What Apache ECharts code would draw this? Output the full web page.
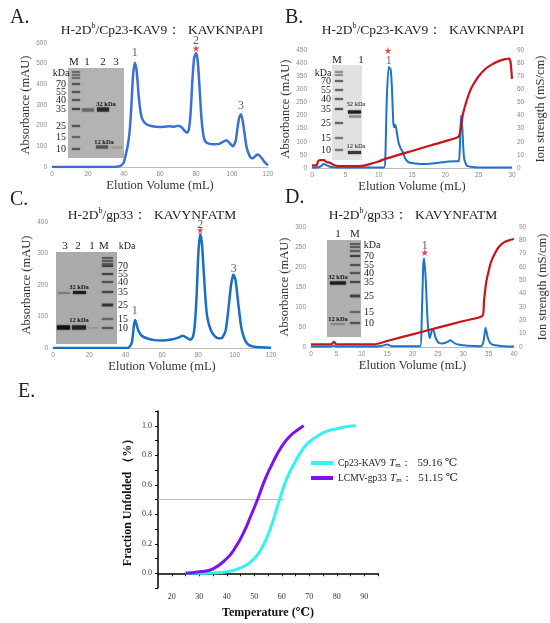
<!DOCTYPE html>
<html>
<head>
<meta charset="utf-8">
<script src="https://cdn.jsdelivr.net/npm/echarts@6/dist/echarts.min.js"></script>
<style>
  body { margin: 0; background: #fff; }
  #chart { width: 550px; height: 623px; }
</style>
</head>
<body>
<div id="chart"></div>
<script>
// ---- data ----
// A: H-2Db/Cp23-KAV9 gel filtration, [volume mL, absorbance mAU]
const traceA = [[0,0],[20,0],[30,0],[36,1],[38,5],[39,12],[40,25],[41,60],[42,100],[43,160],[44,280],[45,440],[46,505],[47,470],[48,360],[49,280],[50,235],[52,210],[55,198],[60,193],[65,197],[68,195],[70,200],[72,192],[74,172],[75,166],[76,180],[77,260],[78,420],[79,530],[80,550],[81,510],[82,380],[83,240],[84,160],[85,125],[87,113],[90,110],[93,112],[95,122],[97,130],[99,112],[100.5,100],[102,125],[103,185],[104,240],[105,255],[106,220],[107,160],[108,100],[109,70],[110,50],[111,42],[112,45],[114,60],[115,58],[116,48],[118,25],[120,8]];
// B: ion exchange, absorbance and conductivity
const traceB = [[0,2],[1,3],[1.4,8],[1.7,15],[2.1,12],[2.6,6],[3.2,3],[4,2],[10.8,2],[11,40],[11.2,250],[11.5,385],[11.8,375],[12,300],[12.2,170],[12.35,155],[12.5,165],[12.7,140],[13,95],[13.3,75],[13.6,62],[14,35],[14.5,22],[15.5,17],[17,15],[19,20],[20.5,25],[21.5,26],[22,25],[22.15,60],[22.35,200],[22.55,150],[22.8,40],[23.2,10],[24,4],[26,2],[30,2]];
const ionB = [[0,2],[0.7,2],[0.9,5],[1.2,6],[1.8,6],[2.2,4.5],[2.7,4],[3.2,2.5],[4,1.5],[7,1.5],[8,2],[9,3.5],[10,5],[11,7],[12,8.5],[14,11.5],[16,14.5],[18,17.5],[20,20.5],[22,24],[22.3,30],[22.6,40],[23,48],[23.5,56],[24,62],[25,70],[26,75.5],[27,79],[28,81.5],[29,83],[29.6,83.5],[29.8,80],[30,68]];
// C: H-2Db/gp33 gel filtration
const traceC = [[0,0],[40,0],[42,3],[43.5,20],[44.5,70],[45.2,89],[46,75],[47,55],[49,38],[52,30],[56,25],[60,24],[65,27],[69,33],[71.5,39],[73.5,33],[75.5,26],[77,35],[78,70],[79,160],[80,300],[81,362],[82,330],[83,240],[84,150],[85,95],[87,55],[89,38],[91,31],[93,32],[95,55],[96.5,120],[98,200],[99.3,233],[100.5,215],[102,140],[103.5,70],[105,35],[107,13],[110,5],[115,2],[120,1]];
// D: ion exchange of H-2Db/gp33
const traceD = [[0,1],[4,1],[4.5,3],[5,1],[13,1],[14,3],[15,6],[16,2],[21.5,2],[21.8,60],[22.1,200],[22.3,221],[22.6,170],[23,60],[23.4,22],[23.8,40],[24.1,44],[24.5,25],[25.2,10],[26,9],[26.8,12],[27.5,17],[28.2,10],[29,6],[31,3],[33.5,2],[34,15],[34.4,48],[34.8,25],[35.3,10],[36,5],[38,2],[40,1]];
const ionD = [[0,2],[4,2],[4.5,4],[5,2],[12.5,2],[15,4.5],[20,9.5],[25,14.5],[30,19.5],[33.8,23.5],[34.1,35],[34.5,48],[35,57],[35.5,64],[36.2,70],[37,75],[38,78.5],[39,80],[40,81]];
// peak numbers and starred peaks
const peaksA = [[46,550,'1'],[80,611,'2'],[105,295,'3']];
const starsA = [[80,574]];
const peaksB = [[11.5,408,'1']];
const starsB = [[11.4,448]];
const peaksC = [[45,117,'1'],[81,392,'2'],[99.5,250,'3']];
const starsC = [[81,374]];
const peaksD = [[22.4,254,'1']];
const starsD = [[22.4,236]];
// E: thermal denaturation
const tempCyan = [25,30,35,40,45,50,53,56,59.2,62,65,68,70,73,76,80,84,87];
const fracCyan = [0,0,0.002,0.01,0.036,0.1,0.18,0.31,0.5,0.65,0.76,0.85,0.89,0.93,0.96,0.98,0.995,1.0];
const tempPurple = [25,30,35,40,43,46,49,51.2,54,57,60,63,66,68];
const fracPurple = [0,0.01,0.03,0.1,0.17,0.27,0.4,0.5,0.64,0.76,0.86,0.93,0.975,1.0];
const halfLine = [[15,0.5],[61,0.5]];
const seriesNames = ['Cp23-KAV9', 'LCMV-gp33'];
const tmValues = ['59.16', '51.15'];
// gel marker labels (kDa)
const mwLabels = ['70','55','40','35','25','15','10'];

const SERIF = '"Liberation Serif", "DejaVu Serif", serif';
const zip = (xs, ys) => xs.map((x, i) => [x, ys[i]]);
const starPath = 'path://M50,0 L61,35 L98,35 L68,57 L79,91 L50,70 L21,91 L32,57 L2,35 L39,35 Z';

// gel insets (layout only, drawn as plain shapes)
const gels = [
  { rect: [68,68,56,90], bg: '#b3b3b3',
    lanes: [['M',74,62],['1',87,62],['2',103,62],['3',116,62]],
    kda: [61,73], mwX: 66, mwAlign: 'right', mwY: [84,92,100,109,126,137,149],
    bands: [[72,72,8,1.5,'#666'],[72,75,8,1.5,'#666'],[72,78,8,1.5,'#666'],[72,84,8,2,'#555'],[72,92,8,2,'#555'],[72,100,8,2,'#555'],[72,109,8,2,'#444'],[72,126,8,2,'#555'],[72,137,8,2,'#666'],[72,149,8,2,'#555'],
      [82,110,12,3,'#666'],[97,109.5,12,4,'#2a2a2a'],[96,147,12,3,'#555'],[111,147.5,11,2,'#999']],
    notes: [['32 kDa',106,104],['12 kDa',104,142]], noteBold: true },
  { rect: [332,65,30,95], bg: '#e2e2e2',
    lanes: [['M',337,60],['1',361,60]],
    kda: [323,73], mwX: 331, mwAlign: 'right', mwY: [81,90,99,109,123,138,150],
    bands: [[335,72,8,1.5,'#888'],[335,75,8,1.5,'#888'],[335,81,8,2,'#666'],[335,90,8,2,'#666'],[335,99,8,2,'#666'],[335,109,8,2,'#555'],[335,123,8,2,'#666'],[335,138,8,2,'#777'],[335,150,8,2,'#777'],
      [348,112,13,3,'#1e1e1e'],[349,116.5,12,2,'#888'],[348,152.5,13,3,'#3a3a3a']],
    notes: [['32 kDa',356,104],['12 kDa',356,146]], noteBold: false },
  { rect: [56,252,61,92], bg: '#ababab',
    lanes: [['3',65,246],['2',78,246],['1',92,246],['M',104,246]],
    kda: [127,246], mwX: 118, mwAlign: 'left', mwY: [266,274,282,292,305,319,328],
    bands: [[102,258,11,1.5,'#555'],[102,261,11,1.5,'#555'],[102,264,11,1.5,'#555'],[102,266,11,2,'#444'],[102,274,11,2,'#444'],[102,282,11,2,'#555'],[102,292,11,2,'#444'],[102,305,11,2.5,'#333'],[102,319,11,2,'#666'],[102,328,11,2,'#555'],
      [73,292.5,13,3,'#1e1e1e'],[58,293,12,1.5,'#777'],[57,327.5,13,4,'#111'],[72,327.5,14,4,'#222'],[88,328,10,2,'#999']],
    notes: [['32 kDa',79,287],['12 kDa',79,320]], noteBold: true },
  { rect: [327,240,34,97], bg: '#b0b0b0',
    lanes: [['1',338,234],['M',355,234]],
    kda: [372,245], mwX: 364, mwAlign: 'left', mwY: [256,265,273,282,296,312,323],
    bands: [[350,244,10,1.5,'#555'],[350,247,10,1.5,'#555'],[350,251,10,1.5,'#555'],[350,256,10,2,'#444'],[350,265,10,2,'#555'],[350,273,10,2,'#555'],[350,282,10,2,'#444'],[350,296,10,2.5,'#444'],[350,312,10,2,'#666'],[350,323,10,2,'#555'],
      [330,283,16,3,'#1e1e1e'],[331,324,14,2,'#888']],
    notes: [['32 kDa',338,277],['12 kDa',338,319]], noteBold: true }
];

function gelGraphics(g) {
  const out = [];
  const [x, y, w, h] = g.rect;
  out.push({ type: 'rect', shape: { x, y, width: w, height: h }, style: { fill: g.bg }, z: 10 });
  g.bands.forEach(b => out.push({ type: 'rect', shape: { x: b[0], y: b[1] - b[3] / 2, width: b[2], height: b[3] },
    style: { fill: b[4], shadowBlur: 1.5, shadowColor: b[4] }, z: 11 }));
  g.lanes.forEach(l => out.push({ type: 'text', x: l[1], y: l[2], z: 12,
    style: { text: l[0], font: '11px ' + SERIF, fill: '#222', align: 'center', verticalAlign: 'middle' } }));
  out.push({ type: 'text', x: g.kda[0], y: g.kda[1], z: 12,
    style: { text: 'kDa', font: '10px ' + SERIF, fill: '#222', align: 'center', verticalAlign: 'middle' } });
  mwLabels.forEach((t, i) => out.push({ type: 'text', x: g.mwX, y: g.mwY[i], z: 12,
    style: { text: t, font: '10px ' + SERIF, fill: '#222', align: g.mwAlign, verticalAlign: 'middle' } }));
  g.notes.forEach(n => out.push({ type: 'text', x: n[1], y: n[2], z: 12,
    style: { text: n[0], font: (g.noteBold ? 'bold ' : '') + '6.5px ' + SERIF, fill: '#111', align: 'center', verticalAlign: 'middle' } }));
  return out;
}

const tick = { color: '#8a8a8a', fontSize: 6.5, fontFamily: 'Arial, sans-serif' };
const axName = { fontFamily: SERIF, fontSize: 12.5, color: '#333' };

function xAxisFor(grid, max, interval, gap) {
  return { type: 'value', gridIndex: grid, min: 0, max, interval,
    name: 'Elution Volume (mL)', nameLocation: 'middle', nameGap: gap, nameTextStyle: axName,
    axisLine: { lineStyle: { color: '#bbb', width: 1 } }, axisTick: { show: false },
    axisLabel: Object.assign({ margin: 4 }, tick), splitLine: { show: false } };
}
function yAxisFor(grid, max, interval) {
  return { type: 'value', gridIndex: grid, min: 0, max, interval,
    name: 'Absorbance (mAU)', nameLocation: 'middle', nameGap: 20, nameTextStyle: axName,
    axisLine: { show: false }, axisTick: { show: false },
    axisLabel: Object.assign({ margin: 5 }, tick), splitLine: { show: false } };
}
function ionAxis(grid) {
  return { type: 'value', gridIndex: grid, position: 'right', min: 0, max: 90, interval: 10,
    name: 'Ion strength (mS/cm)', nameLocation: 'middle', nameGap: 22, nameRotate: 90, nameTextStyle: axName,
    axisLine: { show: false }, axisTick: { show: false },
    axisLabel: Object.assign({ margin: 5 }, tick), splitLine: { show: false } };
}
function line(xi, yi, data, color, width) {
  return { type: 'line', xAxisIndex: xi, yAxisIndex: yi, data, showSymbol: false, symbol: 'none',
    smooth: 0.2, lineStyle: { color, width }, z: 3 };
}
function peakText(xi, yi, data) {
  return { type: 'scatter', xAxisIndex: xi, yAxisIndex: yi, clip: false, symbolSize: 0, z: 5,
    data: data.map(p => ({ value: [p[0], p[1]], name: p[2] })),
    label: { show: true, position: 'inside', formatter: '{b}', fontFamily: SERIF, fontSize: 12, color: '#333' } };
}
function starMark(xi, yi, data) {
  return { type: 'scatter', xAxisIndex: xi, yAxisIndex: yi, clip: false, symbol: starPath, symbolSize: 7,
    itemStyle: { color: '#e8141b' }, data, z: 5 };
}

function panelTitle(pep, sub, x, y) {
  return { text: '{n|H-2D}{s|b}{n|/' + sub + '：  ' + pep + '}', left: x, top: y, textAlign: 'center',
    textStyle: { fontWeight: 'normal', rich: {
      n: { fontFamily: SERIF, fontSize: 13.5, fontWeight: 'normal', color: '#222', lineHeight: 16 },
      s: { fontFamily: SERIF, fontSize: 8, fontWeight: 'normal', color: '#222', verticalAlign: 'top', lineHeight: 16, padding: [0, 0, 6, 0] } } } };
}
function letter(t, x, y) {
  return { text: t, left: x, top: y, textStyle: { fontFamily: SERIF, fontSize: 20, fontWeight: 'normal', color: '#222' } };
}

const option = {
  animation: false,
  backgroundColor: '#fff',
  title: [
    letter('A.', 5, 3), letter('B.', 280, 3), letter('C.', 5, 185), letter('D.', 280, 183), letter('E.', 13, 377),
    panelTitle('KAVKNPAPI', 'Cp23-KAV9', 157, 17),
    panelTitle('KAVKNPAPI', 'Cp23-KAV9', 418, 17),
    panelTitle('KAVYNFATM', 'gp33', 147, 202),
    panelTitle('KAVYNFATM', 'gp33', 408, 202)
  ],
  grid: [
    { left: 52, top: 43, right: 282, bottom: 456 },
    { left: 312, top: 50, right: 38, bottom: 455 },
    { left: 53, top: 222, right: 279, bottom: 275 },
    { left: 311, top: 227, right: 36, bottom: 276 },
    { left: 158, top: 411, right: 172, bottom: 35 }
  ],
  xAxis: [
    xAxisFor(0, 120, 20, 9),
    xAxisFor(1, 30, 5, 9),
    xAxisFor(2, 120, 20, 9),
    xAxisFor(3, 40, 5, 9),
    { type: 'value', gridIndex: 4, min: 15, max: 95, interval: 5,
      name: 'Temperature (℃)', nameLocation: 'middle', nameGap: 19,
      nameTextStyle: { fontFamily: SERIF, fontSize: 12, fontWeight: 'bold', color: '#111' },
      axisLine: { lineStyle: { color: '#000', width: 1.5 } },
      axisTick: { lineStyle: { color: '#000', width: 1 }, length: 3 },
      axisLabel: { fontFamily: SERIF, fontSize: 8, color: '#333', margin: 5,
        formatter: v => (v % 10 === 0 ? String(v) : '') },
      splitLine: { show: false } }
  ],
  yAxis: [
    yAxisFor(0, 600, 100),
    yAxisFor(1, 450, 50),
    ionAxis(1),
    yAxisFor(2, 400, 100),
    yAxisFor(3, 300, 50),
    ionAxis(3),
    { type: 'value', gridIndex: 4, min: -0.1, max: 1.1, interval: 0.1,
      name: 'Fraction Unfolded （%）', nameLocation: 'middle', nameGap: 24,
      nameTextStyle: { fontFamily: SERIF, fontSize: 12, fontWeight: 'bold', color: '#111' },
      axisLine: { lineStyle: { color: '#000', width: 1.5 } },
      axisTick: { lineStyle: { color: '#000', width: 1 }, length: 3 },
      axisLabel: { fontFamily: SERIF, fontSize: 8, color: '#333', margin: 6,
        formatter: v => { const k = Math.round(v * 10); return (k >= 0 && k <= 10 && k % 2 === 0) ? (k / 10).toFixed(1) : ''; } },
      splitLine: { show: false } }
  ],
  legend: {
    left: 306, top: 452, orient: 'vertical', itemGap: 3, itemWidth: 22, itemHeight: 4, icon: 'rect',
    data: seriesNames,
    formatter: name => '{a|' + name + '} {i|T}{m|m}{a|：}  {v|' + tmValues[seriesNames.indexOf(name)] + ' ℃}',
    textStyle: { rich: {
      a: { fontFamily: SERIF, fontSize: 9.5, color: '#222' },
      i: { fontFamily: SERIF, fontSize: 11, fontStyle: 'italic', color: '#222' },
      m: { fontFamily: SERIF, fontSize: 7, color: '#222', verticalAlign: 'bottom' },
      v: { fontFamily: SERIF, fontSize: 11, color: '#222' } } }
  },
  graphic: gels.flatMap(gelGraphics),
  series: [
    line(0, 0, traceA, '#3b6fd6', 2.5),
    peakText(0, 0, peaksA), starMark(0, 0, starsA),
    line(1, 1, traceB, '#1a74cc', 2),
    line(1, 2, ionB, '#c8151b', 2.2),
    peakText(1, 1, peaksB), starMark(1, 1, starsB),
    line(2, 3, traceC, '#1a6ec4', 2.5),
    peakText(2, 3, peaksC), starMark(2, 3, starsC),
    line(3, 4, traceD, '#1a74cc', 2),
    line(3, 5, ionD, '#c8151b', 2.2),
    peakText(3, 4, peaksD), starMark(3, 4, starsD),
    { type: 'line', xAxisIndex: 4, yAxisIndex: 6, data: halfLine, symbol: 'none', silent: true,
      lineStyle: { color: '#bbb', width: 1 }, z: 1 },
    { type: 'line', name: seriesNames[0], xAxisIndex: 4, yAxisIndex: 6, data: zip(tempCyan, fracCyan),
      symbol: 'none', smooth: true, color: '#33f2f2', lineStyle: { width: 3 } },
    { type: 'line', name: seriesNames[1], xAxisIndex: 4, yAxisIndex: 6, data: zip(tempPurple, fracPurple),
      symbol: 'none', smooth: true, color: '#7d12ee', lineStyle: { width: 3 } }
  ]
};

const chart = echarts.init(document.getElementById('chart'));
chart.setOption(option);
</script>
</body>
</html>
